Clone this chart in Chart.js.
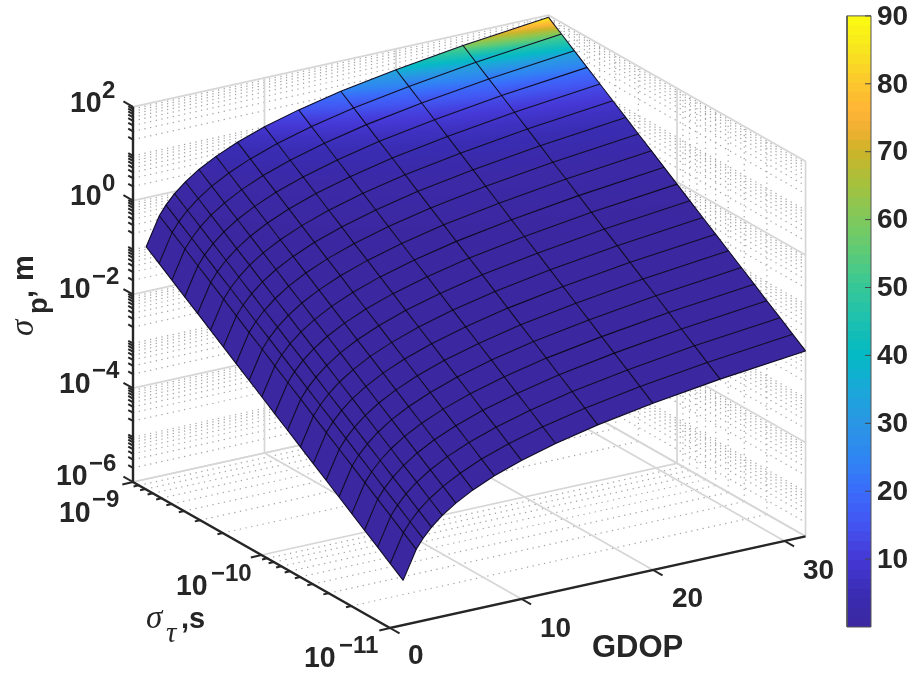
<!DOCTYPE html>
<html>
<head>
<meta charset="utf-8">
<title>sigma_p surface</title>
<style>
  html, body { margin: 0; padding: 0; background: #fff; }
  canvas { display: block; }
</style>
<script src="https://cdn.jsdelivr.net/npm/chart.js@4/dist/chart.umd.min.js"></script>
</head>
<body>
<canvas id="surface" width="915" height="674"></canvas>
<script>
// Surface grid
const gdop = [1, 2, 2.51, 3.16, 3.98, 5.01, 6.31, 7.94, 10, 12.6, 15.8, 20, 25.1, 31.6];
const tau = [1e-9, 7.94e-10, 6.31e-10, 5.01e-10, 3.98e-10, 3.16e-10, 2.51e-10, 2e-10, 1.58e-10, 1.26e-10, 1e-10,
             7.94e-11, 6.31e-11, 5.01e-11, 3.98e-11, 3.16e-11, 2.51e-11, 2e-11, 1.58e-11, 1.26e-11, 1e-11];
// one row per tau value, one column per gdop value
const sigmaP = [
  [0.09, 0.358, 0.568, 0.9, 1.43, 2.26, 3.58, 5.68, 9, 14.3, 22.6, 35.8, 56.8, 90],
  [5.68e-2, 0.226, 0.358, 0.568, 0.9, 1.43, 2.26, 3.58, 5.68, 9, 14.3, 22.6, 35.8, 56.8],
  [3.58e-2, 0.143, 0.226, 0.358, 0.568, 0.9, 1.43, 2.26, 3.58, 5.68, 9, 14.3, 22.6, 35.8],
  [2.26e-2, 0.09, 0.143, 0.226, 0.358, 0.568, 0.9, 1.43, 2.26, 3.58, 5.68, 9, 14.3, 22.6],
  [1.43e-2, 5.68e-2, 0.09, 0.143, 0.226, 0.358, 0.568, 0.9, 1.43, 2.26, 3.58, 5.68, 9, 14.3],
  [9e-3, 3.58e-2, 5.68e-2, 0.09, 0.143, 0.226, 0.358, 0.568, 0.9, 1.43, 2.26, 3.58, 5.68, 9],
  [5.68e-3, 2.26e-2, 3.58e-2, 5.68e-2, 0.09, 0.143, 0.226, 0.358, 0.568, 0.9, 1.43, 2.26, 3.58, 5.68],
  [3.58e-3, 1.43e-2, 2.26e-2, 3.58e-2, 5.68e-2, 0.09, 0.143, 0.226, 0.358, 0.568, 0.9, 1.43, 2.26, 3.58],
  [2.26e-3, 9e-3, 1.43e-2, 2.26e-2, 3.58e-2, 5.68e-2, 0.09, 0.143, 0.226, 0.358, 0.568, 0.9, 1.43, 2.26],
  [1.43e-3, 5.68e-3, 9e-3, 1.43e-2, 2.26e-2, 3.58e-2, 5.68e-2, 0.09, 0.143, 0.226, 0.358, 0.568, 0.9, 1.43],
  [9e-4, 3.58e-3, 5.68e-3, 9e-3, 1.43e-2, 2.26e-2, 3.58e-2, 5.68e-2, 0.09, 0.143, 0.226, 0.358, 0.568, 0.9],
  [5.68e-4, 2.26e-3, 3.58e-3, 5.68e-3, 9e-3, 1.43e-2, 2.26e-2, 3.58e-2, 5.68e-2, 0.09, 0.143, 0.226, 0.358, 0.568],
  [3.58e-4, 1.43e-3, 2.26e-3, 3.58e-3, 5.68e-3, 9e-3, 1.43e-2, 2.26e-2, 3.58e-2, 5.68e-2, 0.09, 0.143, 0.226, 0.358],
  [2.26e-4, 9e-4, 1.43e-3, 2.26e-3, 3.58e-3, 5.68e-3, 9e-3, 1.43e-2, 2.26e-2, 3.58e-2, 5.68e-2, 0.09, 0.143, 0.226],
  [1.43e-4, 5.68e-4, 9e-4, 1.43e-3, 2.26e-3, 3.58e-3, 5.68e-3, 9e-3, 1.43e-2, 2.26e-2, 3.58e-2, 5.68e-2, 0.09, 0.143],
  [9e-5, 3.58e-4, 5.68e-4, 9e-4, 1.43e-3, 2.26e-3, 3.58e-3, 5.68e-3, 9e-3, 1.43e-2, 2.26e-2, 3.58e-2, 5.68e-2, 0.09],
  [5.68e-5, 2.26e-4, 3.58e-4, 5.68e-4, 9e-4, 1.43e-3, 2.26e-3, 3.58e-3, 5.68e-3, 9e-3, 1.43e-2, 2.26e-2, 3.58e-2, 5.68e-2],
  [3.58e-5, 1.43e-4, 2.26e-4, 3.58e-4, 5.68e-4, 9e-4, 1.43e-3, 2.26e-3, 3.58e-3, 5.68e-3, 9e-3, 1.43e-2, 2.26e-2, 3.58e-2],
  [2.26e-5, 9e-5, 1.43e-4, 2.26e-4, 3.58e-4, 5.68e-4, 9e-4, 1.43e-3, 2.26e-3, 3.58e-3, 5.68e-3, 9e-3, 1.43e-2, 2.26e-2],
  [1.43e-5, 5.68e-5, 9e-5, 1.43e-4, 2.26e-4, 3.58e-4, 5.68e-4, 9e-4, 1.43e-3, 2.26e-3, 3.58e-3, 5.68e-3, 9e-3, 1.43e-2],
  [9e-6, 3.58e-5, 5.68e-5, 9e-5, 1.43e-4, 2.26e-4, 3.58e-4, 5.68e-4, 9e-4, 1.43e-3, 2.26e-3, 3.58e-3, 5.68e-3, 9e-3]
];

// Axes
const gdopTicks = [0, 10, 20, 30];
const gdopMax = 31.6;
const tauTicks = [-9, -10, -11];
const zTicks = [-6, -4, -2, 0, 2];
const minorFactors = [2, 3, 4, 5, 6, 7, 8, 9];
const cbarTicks = [10, 20, 30, 40, 50, 60, 70, 80, 90];
const cbarMax = 90;

// Colormap stops: value, colour
const cmapValues = [0, 5, 10, 15, 20, 25, 30, 35, 40, 45, 50, 55, 60, 65, 70, 73, 76, 80, 85, 90];
const cmapColors = ['#3b279f', '#3a2db4', '#4538d6', '#4354f0', '#3a6cfb', '#2f86f2', '#2a96e3', '#1aa8d9', '#04bac4', '#1dc0b0',
                    '#35c798', '#5ccb78', '#7fc95c', '#a4c23e', '#ccb42a', '#edb030', '#ffb436', '#fcc62d', '#f7e51f', '#fcfc12'];

const INK = '#262626';
const SANS = '"Liberation Sans", Arial, sans-serif';
const SERIF = '"Liberation Serif", serif';

// 3D view: gdop (linear), log10 tau, log10 sigma -> canvas position
function project(g, t, z) {
  const v = t + 11, w = z + 6;
  return { x: 390 + g * 13.15 - v * 128.5, y: 628 - g * 2.9 - v * 73 - w * 46.9 };
}

function hexToRgb(h) {
  return [parseInt(h.slice(1, 3), 16), parseInt(h.slice(3, 5), 16), parseInt(h.slice(5, 7), 16)];
}

function colorFor(val) {
  const v = Math.min(Math.max(val, 0), cbarMax);
  let i = 0;
  while (i < cmapValues.length - 2 && v > cmapValues[i + 1]) i++;
  const f = (v - cmapValues[i]) / (cmapValues[i + 1] - cmapValues[i]);
  const a = hexToRgb(cmapColors[i]), b = hexToRgb(cmapColors[i + 1]);
  return 'rgb(' + a.map((c, k) => Math.round(c + (b[k] - c) * f)).join(',') + ')';
}

const canvas = document.getElementById('surface');
const ctx = canvas.getContext('2d');

// Colour across one cell: fit a plane to the corner values, run a linear gradient along it
function cellFill(pts, vals) {
  const lo = Math.min(...vals), hi = Math.max(...vals);
  if (hi - lo < 0.3) return colorFor((lo + hi) / 2);
  const mx = pts.reduce((s, p) => s + p.x, 0) / 4;
  const my = pts.reduce((s, p) => s + p.y, 0) / 4;
  const mv = vals.reduce((s, v) => s + v, 0) / 4;
  let sxx = 0, sxy = 0, syy = 0, sxv = 0, syv = 0;
  pts.forEach((p, k) => {
    const dx = p.x - mx, dy = p.y - my, dv = vals[k] - mv;
    sxx += dx * dx; sxy += dx * dy; syy += dy * dy; sxv += dx * dv; syv += dy * dv;
  });
  const det = sxx * syy - sxy * sxy;
  const a = (sxv * syy - syv * sxy) / det;
  const b = (syv * sxx - sxv * sxy) / det;
  const n = a * a + b * b;
  const grad = ctx.createLinearGradient(
    mx + a * (lo - mv) / n, my + b * (lo - mv) / n,
    mx + a * (hi - mv) / n, my + b * (hi - mv) / n
  );
  for (let s = 0; s <= 8; s++) grad.addColorStop(s / 8, colorFor(lo + (hi - lo) * s / 8));
  return grad;
}

function line(points, color, width, dash) {
  return {
    data: points, showLine: true, pointRadius: 0, tension: 0, fill: false,
    borderColor: color, borderWidth: width, borderDash: dash || [], clip: false
  };
}

function shape(points, background, yAxis) {
  const ds = {
    data: points, showLine: true, pointRadius: 0, tension: 0, fill: 'shape',
    backgroundColor: background, borderWidth: 0, borderColor: 'rgba(0,0,0,0)'
  };
  if (yAxis) ds.yAxisID = yAxis;
  return ds;
}

const back = [];   // listed back to front, reversed before it goes to the chart

// ---- grid walls ----
const GRID = '#d6d6d6', DOTS = '#a4a4a4', DOT_DASH = [1.3, 4.5];
const tauDecades = [-11, -10];
const zDecades = [-6, -5, -4, -3, -2, -1, 0, 1];
const tauTop = -9, tauBottom = -11, zBottom = -6, zTop = 2;

zDecades.forEach(d => minorFactors.forEach(f => {
  const z = d + Math.log10(f);
  back.push(line([project(0, tauTop, z), project(gdopMax, tauTop, z)], DOTS, 1.2, DOT_DASH));
  back.push(line([project(gdopMax, tauTop, z), project(gdopMax, tauBottom, z)], DOTS, 1.2, DOT_DASH));
}));
tauDecades.forEach(d => minorFactors.forEach(f => {
  const t = d + Math.log10(f);
  back.push(line([project(gdopMax, t, zBottom), project(gdopMax, t, zTop)], DOTS, 1.2, DOT_DASH));
  back.push(line([project(0, t, zBottom), project(gdopMax, t, zBottom)], DOTS, 1.2, DOT_DASH));
}));

zTicks.forEach(z => {
  back.push(line([project(0, tauTop, z), project(gdopMax, tauTop, z), project(gdopMax, tauBottom, z)], GRID, 1.7));
});
gdopTicks.slice(1).concat([gdopMax]).forEach(g => {
  back.push(line([project(g, tauBottom, zBottom), project(g, tauTop, zBottom), project(g, tauTop, zTop)], GRID, 1.7));
});
tauTicks.forEach(t => {
  back.push(line([project(0, t, zBottom), project(gdopMax, t, zBottom), project(gdopMax, t, zTop)], GRID, 1.7));
});

// ---- box axes and ticks ----
back.push(line([project(0, tauTop, zTop), project(0, tauTop, zBottom), project(0, tauBottom, zBottom), project(gdopMax, tauBottom, zBottom)], INK, 2.4));

function tick(p, dx, dy, len) {
  return line([p, { x: p.x + dx * len, y: p.y + dy * len }], INK, 2);
}
zTicks.forEach(z => back.push(tick(project(0, tauTop, z), -0.87, -0.49, 11)));
zDecades.forEach(d => minorFactors.forEach(f => {
  back.push(tick(project(0, tauTop, d + Math.log10(f)), -0.87, -0.49, 5.5));
}));
tauTicks.forEach(t => back.push(tick(project(0, t, zBottom), -0.97, 0.22, 11)));
tauDecades.forEach(d => minorFactors.forEach(f => {
  back.push(tick(project(0, d + Math.log10(f), zBottom), -0.97, 0.22, 5.5));
}));
gdopTicks.forEach(g => back.push(tick(project(g, tauBottom, zBottom), 0.87, 0.49, 11)));

// ---- surface cells ----
const tauLog = tau.map(t => Math.log10(t));
const surf = sigmaP.map(row => row.map(v => Math.log10(v)));
function meshPoint(j, i) {
  return project(gdop[i], tauLog[j], surf[j][i]);
}
for (let j = 0; j < tau.length - 1; j++) {
  for (let i = 0; i < gdop.length - 1; i++) {
    const pts = [meshPoint(j, i), meshPoint(j, i + 1), meshPoint(j + 1, i + 1), meshPoint(j + 1, i)];
    const vals = [sigmaP[j][i], sigmaP[j][i + 1], sigmaP[j + 1][i + 1], sigmaP[j + 1][i]];
    back.push(shape(pts.concat([pts[0]]), cellFill(pts, vals)));
  }
}
// mesh lines
const MESH = 'rgba(8,6,30,0.95)';
tau.forEach((t, j) => back.push(line(gdop.map((g, i) => meshPoint(j, i)), MESH, 1.1)));
gdop.forEach((g, i) => back.push(line(tau.map((t, j) => meshPoint(j, i)), MESH, 1.1)));

// ---- colour bar ----
const BAR_LEFT = 847, BAR_RIGHT = 871, LEVELS = 64;
for (let k = 0; k < LEVELS; k++) {
  const v = cbarMax * k / LEVELS;
  back.push(shape([
    { x: BAR_LEFT, y: v }, { x: BAR_RIGHT, y: v }, { x: BAR_RIGHT, y: cbarMax },
    { x: BAR_LEFT, y: cbarMax }, { x: BAR_LEFT, y: v }
  ], colorFor(cbarMax * (k + 0.5) / LEVELS), 'cbar'));
}
const barFrame = line([
  { x: BAR_LEFT, y: 0 }, { x: BAR_RIGHT, y: 0 }, { x: BAR_RIGHT, y: cbarMax },
  { x: BAR_LEFT, y: cbarMax }, { x: BAR_LEFT, y: 0 }
], '#555555', 1);
barFrame.yAxisID = 'cbar';
back.push(barFrame);
cbarTicks.forEach(v => {
  const t = line([{ x: BAR_RIGHT - 6, y: v }, { x: BAR_RIGHT, y: v }], '#444444', 1);
  t.yAxisID = 'cbar';
  back.push(t);
});

// ---- text ----
function power(c, base, exp, x, y, supX, supY) {
  c.save();
  c.translate(x, y);
  c.scale(0.95, 1);
  c.font = 'bold 30px ' + SANS;
  c.fillText(base, 0, 0);
  c.restore();
  c.font = 'bold 24px ' + SANS;
  c.fillText(exp, supX, supY);
}

const labelsPlugin = {
  id: 'labels',
  afterDraw(chart) {
    const c = chart.ctx;
    c.save();
    c.fillStyle = INK;
    c.textAlign = 'left';
    c.textBaseline = 'alphabetic';

    // z ticks
    power(c, '10', '2', 70, 112, 102, 98);
    power(c, '10', '0', 70, 205, 102, 191);
    power(c, '10', '\u22122', 59, 298, 92, 284);
    power(c, '10', '\u22124', 59, 393, 92, 378);
    power(c, '10', '\u22126', 56, 485, 89, 471);
    // tau ticks
    power(c, '10', '\u22129', 59, 522, 92, 507);
    power(c, '10', '\u221210', 176, 595, 211, 581);
    power(c, '10', '\u221211', 304, 667, 339, 653);

    // gdop ticks
    c.font = 'bold 28px ' + SANS;
    c.fillText('0', 408, 664);
    c.fillText('10', 540, 637);
    c.fillText('20', 672, 607);
    c.fillText('30', 803, 579);

    c.font = 'bold 31px ' + SANS;
    c.fillText('GDOP', 592, 657);

    // tau label
    c.font = 'italic 33px ' + SERIF;
    c.fillText('\u03c3', 146, 628);
    c.font = 'italic 29px ' + SERIF;
    c.fillText('\u03c4', 166, 642);
    c.font = 'bold 29px ' + SANS;
    c.fillText(',s', 181, 628);

    // sigma_p label
    c.save();
    c.translate(33, 336);
    c.rotate(-Math.PI / 2);
    c.font = 'italic 33px ' + SERIF;
    c.fillText('\u03c3', 0, 0);
    c.font = 'bold 27px ' + SANS;
    c.fillText('p', 22, 14);
    c.font = 'bold 29px ' + SANS;
    c.fillText(',', 38, 0);
    c.fillText('m', 55, 0);
    c.restore();

    // colour bar ticks
    c.font = 'bold 28px ' + SANS;
    c.textBaseline = 'middle';
    const barScale = chart.scales.cbar;
    cbarTicks.forEach(v => c.fillText(String(v), 877, barScale.getPixelForValue(v) + 1));
    c.restore();
  }
};

new Chart(ctx, {
  type: 'scatter',
  data: { datasets: back.reverse() },
  plugins: [labelsPlugin],
  options: {
    responsive: false,
    animation: false,
    events: [],
    layout: { padding: 0 },
    plugins: { legend: { display: false }, tooltip: { enabled: false } },
    scales: {
      x: { type: 'linear', display: false, min: 0, max: 915 },
      y: { type: 'linear', display: false, min: 0, max: 674, reverse: true },
      cbar: { type: 'linear', display: false, min: -6.92, max: 92.34 }
    }
  }
});
</script>
</body>
</html>
